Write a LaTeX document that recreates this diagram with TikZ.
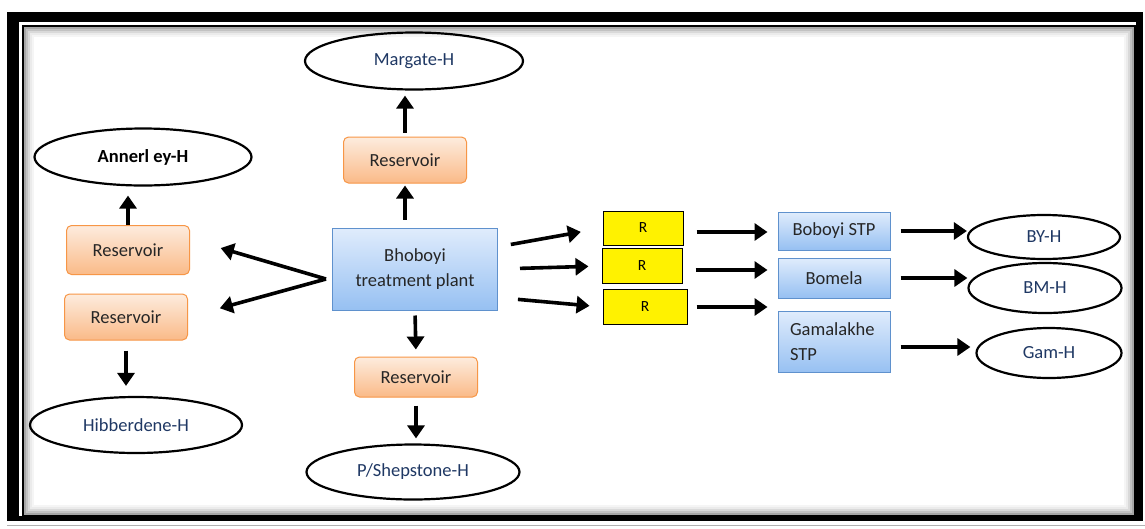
\documentclass[tikz,border=0pt]{standalone}
\usepackage{fontspec}
\setmainfont{Carlito}
\usetikzlibrary{arrows.meta}
\usetikzlibrary{shapes.geometric}
\definecolor{resline}{RGB}{247,150,70}
\definecolor{restop}{RGB}{253,236,222}
\definecolor{resbot}{RGB}{250,186,136}
\definecolor{plantline}{RGB}{95,145,205}
\definecolor{planttop}{RGB}{224,236,252}
\definecolor{plantbot}{RGB}{150,192,242}
\definecolor{townink}{RGB}{31,56,100}
\definecolor{boxink}{RGB}{38,38,38}

\begin{document}
\begin{tikzpicture}[x=1pt,y=-1pt,
  every node/.style={font=\fontsize{18.5}{25}\selectfont},
  reservoir/.style={draw=resline,line width=1pt,rounded corners=5pt,top color=restop,bottom color=resbot,
    minimum width=123pt,minimum height=46pt,text=boxink},
  plantbox/.style={draw=plantline,line width=1pt,top color=planttop,bottom color=plantbot,text=boxink},
  rbox/.style={draw,line width=1pt,fill=yellow,minimum width=80pt,minimum height=34pt,
    font=\fontsize{15.5}{17}\selectfont},
  town/.style={ellipse,draw,line width=2.2pt,text=townink},
  flow/.style={line width=3.6pt,-{Triangle[length=13pt,width=17pt]}}]
  \useasboundingbox (0,0) rectangle (1145,528);
  \fill[black] (7,12) rectangle (1143,521);
  \fill[white] (19,22) rectangle (1136,516);
  \foreach \d/\o in {2/0.35,4/0.24,6/0.15,8/0.08,10/0.04}
    \draw[line width=2pt,black,opacity=\o] ({23+\d},{26+\d}) rectangle ({1135-\d},{516-\d});
  \draw[line width=2pt] (23,26) rectangle (1135,516);
  \draw[gray!60,line width=1pt] (7,525) -- (1145,525);

  \node[plantbox,minimum width=165pt,minimum height=82pt,align=center] (plant) at (415,269) {Bhoboyi\\treatment plant};
  \node[reservoir] (resm) at (405,160) {Reservoir};
  \node[reservoir,minimum height=40pt] (resp) at (416,377) {Reservoir};
  \node[reservoir,minimum height=49pt] (resa) at (128,250) {Reservoir};
  \node[reservoir] (resh) at (126,317) {Reservoir};
  \node[town,minimum width=218pt,minimum height=57pt] (margate) at (414,61) {Margate-H};
  \node[town,minimum width=217pt,minimum height=57pt,text=black,font=\fontsize{18.5}{25}\selectfont\bfseries] (annerley) at (143,157) {Annerl ey-H};
  \node[town,minimum width=212pt,minimum height=56pt] (hibb) at (136,425) {Hibberdene-H};
  \node[town,minimum width=213pt,minimum height=55pt] (shep) at (413,472) {P/Shepstone-H};

  \node[rbox] (r1) at (643,228) {R};
  \node[rbox,minimum height=35pt] (r2) at (642,266) {R};
  \node[rbox,minimum width=84pt,minimum height=35pt] (r3) at (645,307) {R};
  \node[plantbox,minimum width=112pt,minimum height=38pt] (boboyi) at (834,231) {Boboyi STP};
  \node[plantbox,minimum width=112pt,minimum height=40pt] (bomela) at (834,278) {Bomela};
  \node[plantbox,text width=88pt,inner sep=12pt,minimum height=60pt,align=left] (gama) at (834,342) {Gamalakhe\\STP};
  \node[town,minimum width=152pt,minimum height=44pt] (byh) at (1044,237) {BY-H};
  \node[town,minimum width=153pt,minimum height=50pt] (bmh) at (1045,288) {BM-H};
  \node[town,minimum width=145pt,minimum height=50pt] (gamh) at (1049,353) {Gam-H};

  \coordinate (fork) at (326,279);
  \draw[flow,shorten >=32pt] (fork) -- (resa.10);
  \draw[flow,shorten >=33pt] (fork) -- (resh.east);
  \draw[flow,shorten <=4pt,shorten >=5pt] (resm.north) -- (resm.north |- margate.south);
  \draw[flow,shorten <=8pt,shorten >=2pt] (resm.south |- plant.north) -- (resm.south);
  \draw[flow,shorten <=5pt,shorten >=7pt] (plant.south) -- (resp.north);
  \draw[flow,shorten <=8pt,shorten >=5pt] (resp.south) -- (resp.south |- shep.north);
  \draw[flow,shorten >=9pt] (resa.north) -- (resa.north |- annerley.south);
  \draw[flow,shorten <=10pt,shorten >=10pt] (resh.south) -- (resh.south |- hibb.north);
  \draw[flow,shorten <=13pt,shorten >=22pt] (plant.15) -- (r1.west);
  \draw[flow,shorten <=22pt,shorten >=13pt] (plant.east) -- (r2.west);
  \draw[flow,shorten <=20pt,shorten >=13pt] (plant.-19) -- (r3.west);
  \draw[flow,shorten <=13pt,shorten >=10pt] ([yshift=-4pt]r1.east) -- ([yshift=-4pt]r1.east -| boboyi.west);
  \draw[flow,shorten <=13pt,shorten >=10pt] ([yshift=-4pt]r2.east) -- ([yshift=-4pt]r2.east -| bomela.west);
  \draw[flow,shorten <=9pt,shorten >=10pt] (r3.east) -- (r3.east -| gama.west);
  \draw[flow,shorten <=10pt] (boboyi.east) -- (boboyi.east -| byh.west);
  \draw[flow,shorten <=10pt] (bomela.east) -- (bomela.east -| bmh.west);
  \draw[flow,shorten <=10pt,shorten >=5pt] ([yshift=-5pt]gama.east) -- ([yshift=-5pt]gama.east -| gamh.west);
\end{tikzpicture}
\end{document}
